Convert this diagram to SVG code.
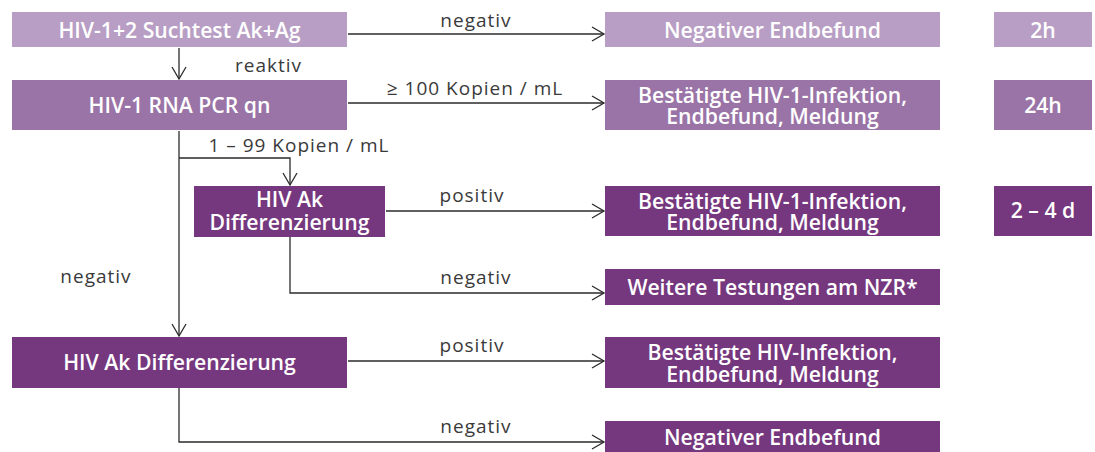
<svg xmlns="http://www.w3.org/2000/svg" width="1095" height="452" viewBox="0 0 1095 452">
<defs>
<style>
.c1{fill:#b89ec4}
.c2{fill:#9a74a6}
.c3{fill:#75377e}
.bt{font-family:"Open Sans","Liberation Sans",sans-serif;font-weight:600;font-size:21.2px;fill:#ffffff;text-anchor:middle}
.lb{font-family:"Open Sans","Liberation Sans",sans-serif;font-size:19px;fill:#3a3a3a;text-anchor:middle;letter-spacing:1px}
.ln{fill:none;stroke:#2b2b2b;stroke-width:1.3}
</style>
<marker id="ah" markerUnits="userSpaceOnUse" markerWidth="16" markerHeight="18" viewBox="-14 -9 16 18" refX="0" refY="0" orient="auto">
<path d="M-12,-7 L0,0 L-12,7" fill="none" stroke="#2b2b2b" stroke-width="1.3"/>
</marker>
</defs>
<rect width="1095" height="452" fill="#ffffff"/>

<g id="n-suchtest"><rect class="c1" x="12" y="12" width="335" height="35"/><text class="bt" x="179.5" y="38">HIV-1+2 Suchtest Ak+Ag</text></g>
<g id="n-pcr"><rect class="c2" x="12" y="80" width="335" height="50"/><text class="bt" x="179.5" y="113">HIV-1 RNA PCR qn</text></g>
<g id="n-diff1"><rect class="c3" x="194" y="186" width="191" height="51"/><text class="bt" x="289.5" y="207">HIV Ak</text><text class="bt" x="289.5" y="229.5">Differenzierung</text></g>
<g id="n-diff2"><rect class="c3" x="12" y="337" width="335" height="51"/><text class="bt" x="179.5" y="370">HIV Ak Differenzierung</text></g>

<g id="n-neg1"><rect class="c1" x="605" y="12" width="335" height="35"/><text class="bt" x="772.5" y="38">Negativer Endbefund</text></g>
<g id="n-best1"><rect class="c2" x="605" y="80" width="335" height="50"/><text class="bt" x="772.5" y="102.5">Bestätigte HIV-1-Infektion,</text><text class="bt" x="772.5" y="124">Endbefund, Meldung</text></g>
<g id="n-best2"><rect class="c3" x="605" y="186" width="335" height="50"/><text class="bt" x="772.5" y="208.5">Bestätigte HIV-1-Infektion,</text><text class="bt" x="772.5" y="230">Endbefund, Meldung</text></g>
<g id="n-weitere"><rect class="c3" x="605" y="269" width="335" height="36"/><text class="bt" x="772.5" y="295">Weitere Testungen am NZR*</text></g>
<g id="n-best3"><rect class="c3" x="605" y="337" width="335" height="51"/><text class="bt" x="772.5" y="360">Bestätigte HIV-Infektion,</text><text class="bt" x="772.5" y="381.5">Endbefund, Meldung</text></g>
<g id="n-neg2"><rect class="c3" x="605" y="421" width="335" height="34"/><text class="bt" x="772.5" y="445">Negativer Endbefund</text></g>

<g id="t-2h"><rect class="c1" x="994" y="12" width="98" height="35"/><text class="bt" x="1043" y="38">2h</text></g>
<g id="t-24h"><rect class="c2" x="994" y="80" width="98" height="50"/><text class="bt" x="1043" y="113">24h</text></g>
<g id="t-24d"><rect class="c3" x="994" y="186" width="98" height="50"/><text class="bt" x="1043" y="218">2 – 4 d</text></g>

<g id="connectors">
<path class="ln" d="M179,48 V79" marker-end="url(#ah)"/>
<path class="ln" d="M348,34 H604" marker-end="url(#ah)"/>
<path class="ln" d="M348,103 H604" marker-end="url(#ah)"/>
<path class="ln" d="M179,131 V336" marker-end="url(#ah)"/>
<path class="ln" d="M179,158 H290 V185" marker-end="url(#ah)"/>
<path class="ln" d="M386,211 H604" marker-end="url(#ah)"/>
<path class="ln" d="M290,237 V293 H604" marker-end="url(#ah)"/>
<path class="ln" d="M348,361 H604" marker-end="url(#ah)"/>
<path class="ln" d="M179,388 V442 H604" marker-end="url(#ah)"/>
</g>

<g id="labels">
<text class="lb" x="476" y="27">negativ</text>
<text class="lb" x="268.5" y="72">reaktiv</text>
<text class="lb" x="475" y="95">≥ 100 Kopien / mL</text>
<text class="lb" x="299" y="152">1 – 99 Kopien / mL</text>
<text class="lb" x="472" y="202">positiv</text>
<text class="lb" x="96" y="283">negativ</text>
<text class="lb" x="476" y="284">negativ</text>
<text class="lb" x="472" y="352">positiv</text>
<text class="lb" x="476" y="433">negativ</text>
</g>
</svg>
